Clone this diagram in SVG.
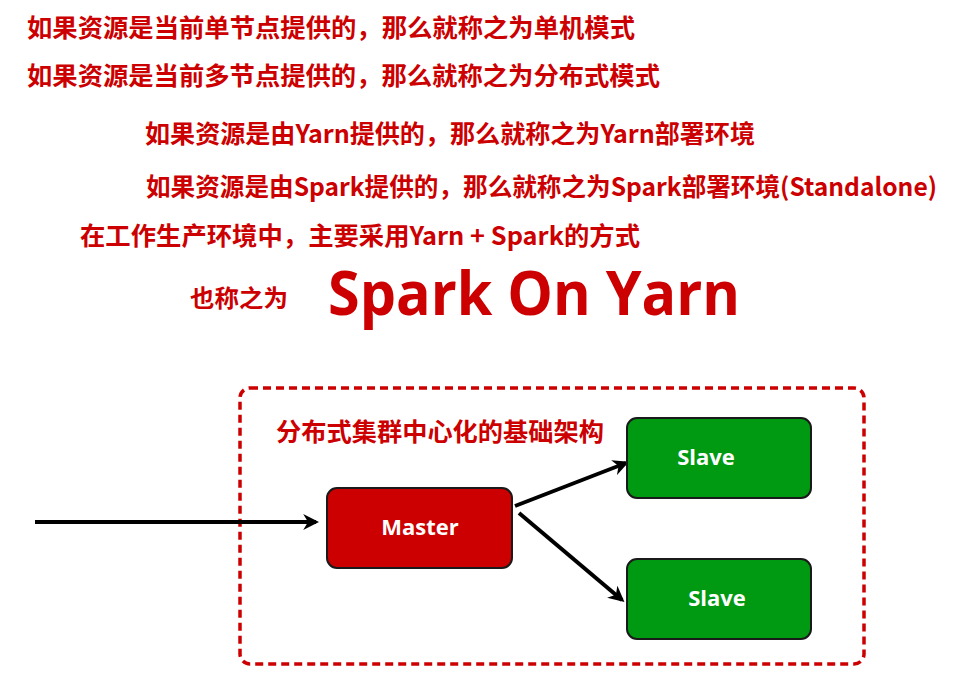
<svg xmlns="http://www.w3.org/2000/svg" width="971" height="690" viewBox="0 0 971 690">
<style>
.t{font-family:"Noto Sans CJK SC","Liberation Sans",sans-serif;font-weight:700;fill:#cc0000;font-size:25px}
.big{font-family:"Open Sans","Liberation Sans",sans-serif;font-weight:700;fill:#cc0000;font-size:60px}
.lbl{font-family:"Open Sans","Liberation Sans",sans-serif;font-weight:700;fill:#ffffff;font-size:22px;text-anchor:middle}
.box{stroke:#1a1a1a;stroke-width:2}
.edge{stroke:#000;stroke-width:4;fill:none;marker-end:url(#ah)}
</style>
<defs>
<marker id="ah" viewBox="0 0 10 10" refX="8" refY="5" markerWidth="4" markerHeight="4" orient="auto" markerUnits="strokeWidth">
<path d="M0,0 L10,5 L0,10 L3,5 Z" fill="#000"/>
</marker>
</defs>
<rect width="971" height="690" fill="#fff"/>
<g id="texts">
<text class="t" x="27" y="37" textLength="608" lengthAdjust="spacingAndGlyphs">如果资源是当前单节点提供的，那么就称之为单机模式</text>
<text class="t" x="27" y="85" textLength="633" lengthAdjust="spacingAndGlyphs">如果资源是当前多节点提供的，那么就称之为分布式模式</text>
<text class="t" x="145" y="143" textLength="610" lengthAdjust="spacingAndGlyphs">如果资源是由Yarn提供的，那么就称之为Yarn部署环境</text>
<text class="t" x="146" y="196" textLength="791" lengthAdjust="spacingAndGlyphs">如果资源是由Spark提供的，那么就称之为Spark部署环境(Standalone)</text>
<text class="t" x="80" y="245" textLength="560" lengthAdjust="spacingAndGlyphs">在工作生产环境中，主要采用Yarn + Spark的方式</text>
<text class="t" x="190" y="307" style="font-size:24px" textLength="98" lengthAdjust="spacingAndGlyphs">也称之为</text>
<text class="big" x="328" y="315" textLength="412" lengthAdjust="spacingAndGlyphs">Spark On Yarn</text>
</g>
<g id="cluster">
<rect x="240" y="388" width="624" height="276" rx="10" fill="none" stroke="#cc0000" stroke-width="3.5" stroke-dasharray="8 5"/>
<text class="t" x="276" y="441" textLength="328" lengthAdjust="spacingAndGlyphs">分布式集群中心化的基础架构</text>
</g>
<g id="edges">
<line class="edge" x1="35" y1="522" x2="316" y2="522"/>
<line class="edge" x1="515" y1="506" x2="626" y2="463"/>
<line class="edge" x1="519" y1="513" x2="622" y2="600"/>
</g>
<g id="master">
<rect class="box" x="327" y="488" width="185" height="80" rx="10" fill="#cc0000"/>
<text class="lbl" x="420" y="535">Master</text>
</g>
<g id="slave1">
<rect class="box" x="627" y="418" width="184" height="80" rx="10" fill="#009a12"/>
<text class="lbl" x="706" y="465">Slave</text>
</g>
<g id="slave2">
<rect class="box" x="627" y="559" width="184" height="80" rx="10" fill="#009a12"/>
<text class="lbl" x="717" y="606">Slave</text>
</g>
</svg>
